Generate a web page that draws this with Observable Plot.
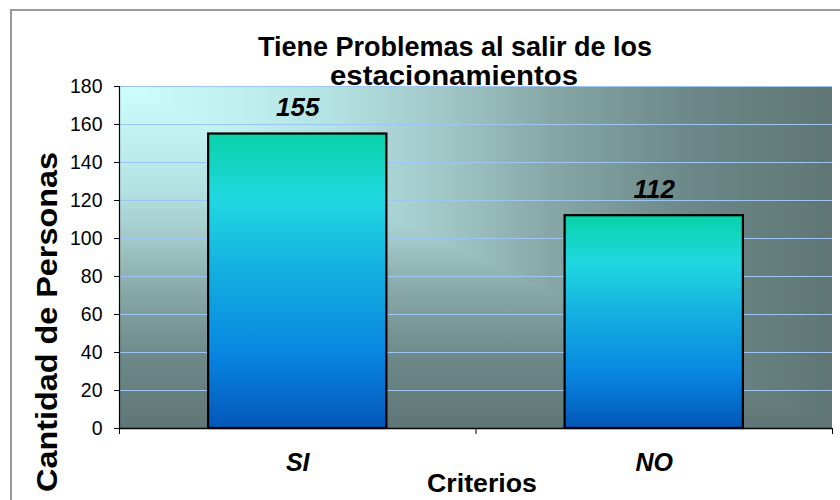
<!DOCTYPE html>
<html>
<head>
<meta charset="utf-8">
<script src="https://cdn.jsdelivr.net/npm/d3@7"></script>
<script src="https://cdn.jsdelivr.net/npm/@observablehq/plot@0.6"></script>
<style>
  html, body { margin: 0; padding: 0; background: #ffffff; }
  #chart { position: relative; width: 840px; height: 500px; }
</style>
</head>
<body>
<div id="chart"></div>
<script>
const categories = ["SI", "NO"];
const values = [155, 112];
const yTicks = [0, 20, 40, 60, 80, 100, 120, 140, 160, 180];
const titleLines = ["Tiene Problemas al salir de los", "estacionamientos"];
const xLabel = "Criterios";
const yLabel = "Cantidad de Personas";

const data = categories.map((c, i) => ({cat: c, value: values[i], i}));
const FONT = "'Liberation Sans', Arial, Helvetica, sans-serif";

const chart = Plot.plot({
  width: 840,
  height: 500,
  marginLeft: 119,
  marginRight: 8,
  marginTop: 86,
  marginBottom: 72,
  x: {domain: [0, categories.length], axis: null},
  y: {domain: [0, 180], axis: null},
  style: {fontFamily: FONT, fontSize: "19px", color: "#000", background: "transparent", overflow: "visible"},
  marks: [
    Plot.gridY(yTicks, {stroke: "#9ec6f2", strokeOpacity: 1, strokeWidth: 1}),
    Plot.rectY(data, {x1: d => d.i + 0.25, x2: d => d.i + 0.75, y1: 0, y2: "value", inset: 0,
      fill: "url(#barGrad)", stroke: "#000", strokeWidth: 2.2}),
    Plot.ruleX([0], {stroke: "#000", strokeWidth: 1.2}),
    Plot.ruleY([0], {stroke: "#000", strokeWidth: 1.6}),
    Plot.axisY(yTicks, {tickSize: 5, tickPadding: 12, fontSize: 19.5, label: null}),
    Plot.axisX([0, 1, 2], {tickSize: 6, tickFormat: () => "", label: null}),
    Plot.text(data, {x: d => d.i + 0.5, y: 0, text: "cat", dy: 34, fontSize: 25,
      fontWeight: "bold", fontStyle: "italic", fill: "#000"}),
    Plot.text(data, {x: d => d.i + 0.5, y: "value", text: d => String(d.value), dy: -26,
      fontSize: 26, fontWeight: "bold", fontStyle: "italic", fill: "#000"})
  ]
});

document.getElementById("chart").appendChild(chart);

const svg = d3.select(chart);
const xs = chart.scale("x"), ys = chart.scale("y");
const X0 = xs.apply(0), X1 = xs.apply(categories.length);
const YT = ys.apply(180), YB = ys.apply(0);

// gradients
const defs = svg.insert("defs", ":first-child");
const bgStops = [
  [0, "#ccffff"], [0.3, "#b4e2e2"], [0.45, "#a2c8c8"],
  [0.6, "#88a8a8"], [0.8, "#6c8888"], [1, "#5f7676"]
];
const gh = defs.append("linearGradient").attr("id", "bgH")
  .attr("gradientUnits", "userSpaceOnUse").attr("x1", X0).attr("y1", 0).attr("x2", X1).attr("y2", 0);
const gv = defs.append("linearGradient").attr("id", "bgV")
  .attr("gradientUnits", "userSpaceOnUse").attr("x1", 0).attr("y1", YT).attr("x2", 0).attr("y2", YB);
for (const [o, c] of bgStops) {
  gh.append("stop").attr("offset", o).attr("stop-color", c);
  gv.append("stop").attr("offset", o).attr("stop-color", c);
}
const gb = defs.append("linearGradient").attr("id", "barGrad")
  .attr("x1", 0).attr("y1", 0).attr("x2", 0).attr("y2", 1);
for (const [o, c] of [[0, "#08d2a8"], [0.22, "#20d8e0"], [0.5, "#12aae0"], [0.75, "#0886e0"], [1, "#0456b8"]]) {
  gb.append("stop").attr("offset", o).attr("stop-color", c);
}

// background of plot area (from-corner gradient)
const bg = svg.insert("g", "g");
bg.append("rect").attr("x", X0).attr("y", YT).attr("width", X1 - X0).attr("height", YB - YT).attr("fill", "url(#bgV)");
bg.append("polygon").attr("points", `${X0},${YT} ${X1},${YT} ${X1},${YB}`).attr("fill", "url(#bgH)");

// outer chart border
svg.append("rect").attr("x", 11).attr("y", 10).attr("width", 900).attr("height", 600)
  .attr("fill", "none").attr("stroke", "#9a9a9a").attr("stroke-width", 2);

// titles
const tg = svg.append("g").attr("font-family", FONT).attr("font-weight", "bold").attr("fill", "#000");
tg.append("text").attr("x", 455).attr("y", 56).attr("text-anchor", "middle").attr("font-size", 27)
  .attr("textLength", 394).attr("lengthAdjust", "spacingAndGlyphs").text(titleLines[0]);
tg.append("text").attr("x", 454).attr("y", 85).attr("text-anchor", "middle").attr("font-size", 27)
  .attr("textLength", 248).attr("lengthAdjust", "spacingAndGlyphs").text(titleLines[1]);
tg.append("text").attr("x", 482).attr("y", 492).attr("text-anchor", "middle").attr("font-size", 26)
  .attr("textLength", 110).attr("lengthAdjust", "spacingAndGlyphs").text(xLabel);
tg.append("text").attr("transform", "translate(57,322) rotate(-90)").attr("text-anchor", "middle")
  .attr("font-size", 30).attr("textLength", 340).attr("lengthAdjust", "spacingAndGlyphs").text(yLabel);
</script>
</body>
</html>
